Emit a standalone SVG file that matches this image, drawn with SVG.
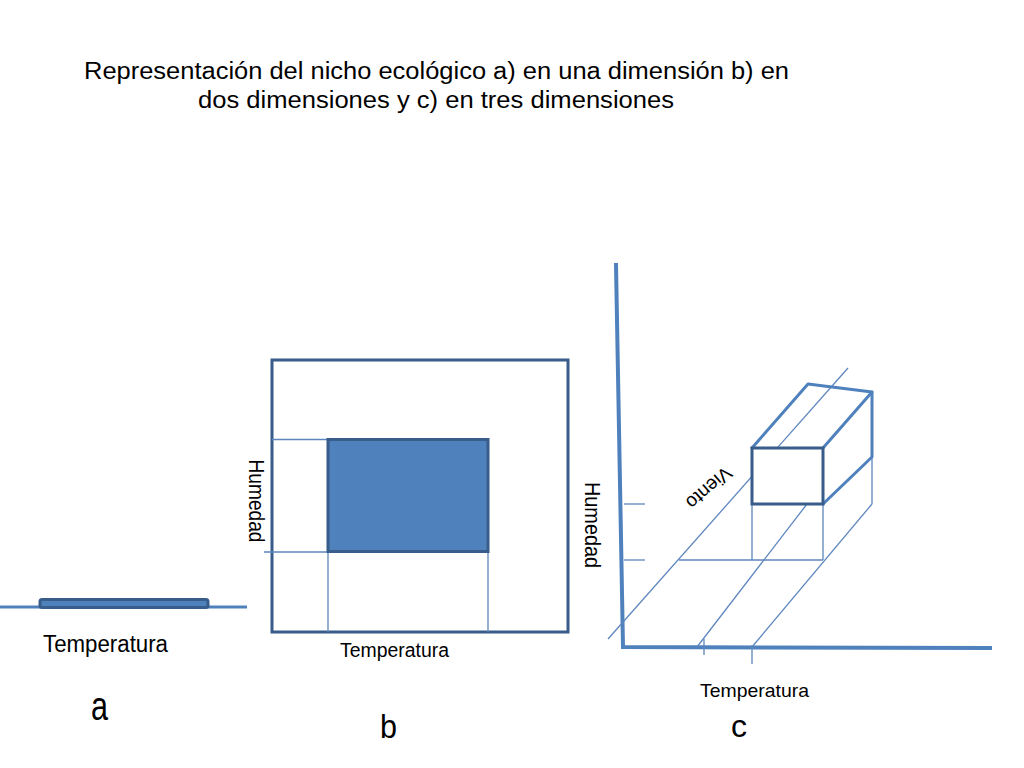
<svg xmlns="http://www.w3.org/2000/svg" width="1024" height="768" viewBox="0 0 1024 768">
<style>
.txt{font-family:"Liberation Sans",Arial,sans-serif;fill:#000}
.axis{stroke:#4F81BD;stroke-width:4;fill:none;stroke-linecap:square}
.thin{stroke:#5E86BE;stroke-width:1.3;fill:none}
.dark{stroke:#385D8A;stroke-width:3}
.edge{stroke:#4F81BD;stroke-width:3;fill:none;stroke-linejoin:round;stroke-linecap:round}
</style>
<rect width="1024" height="768" fill="#fff"/>
<g id="title" class="txt" font-size="23" text-anchor="start">
<text x="84" y="79" textLength="705" lengthAdjust="spacingAndGlyphs">Representación del nicho ecológico a) en una dimensión b) en</text>
<text x="198" y="108" textLength="476" lengthAdjust="spacingAndGlyphs">dos dimensiones y c) en tres dimensiones</text>
</g>
<g id="panel-a">
<line x1="0" y1="607" x2="247" y2="607" stroke="#4F81BD" stroke-width="3"/>
<rect x="40" y="599.5" width="168" height="8" rx="2" fill="#4F81BD" class="dark" stroke-width="2"/>
<text class="txt" x="43" y="652" font-size="23" textLength="125" lengthAdjust="spacingAndGlyphs">Temperatura</text>
<text class="txt" x="91" y="720" font-size="40" textLength="17" lengthAdjust="spacingAndGlyphs">a</text>
</g>
<g id="panel-b">
<rect x="272" y="360" width="296" height="272" fill="#fff" class="dark"/>
<g class="thin">
<line x1="272" y1="439.5" x2="328" y2="439.5"/>
<line x1="264" y1="552" x2="328" y2="552"/>
<line x1="328" y1="552" x2="328" y2="632"/>
<line x1="488" y1="552" x2="488" y2="632"/>
</g>
<rect x="328" y="439.5" width="160" height="112" fill="#4F81BD" class="dark"/>
<text class="txt" transform="translate(256,501) rotate(90)" x="0" y="7.5" font-size="22" text-anchor="middle" textLength="83" lengthAdjust="spacingAndGlyphs">Humedad</text>
<text class="txt" x="340" y="657" font-size="20" textLength="109" lengthAdjust="spacingAndGlyphs">Temperatura</text>
<text class="txt" x="380" y="738" font-size="34" textLength="17" lengthAdjust="spacingAndGlyphs">b</text>
</g>
<g id="connectors">
<polyline class="axis" points="616,265 623,647 990,648"/>
<g class="thin">
<line x1="624" y1="504" x2="645" y2="504"/>
<line x1="624" y1="560" x2="645" y2="560"/>
<line x1="704" y1="639" x2="704" y2="655"/>
<line x1="752" y1="645" x2="752" y2="664"/>
<line x1="608" y1="639" x2="848" y2="368"/>
<line x1="697" y1="647" x2="807" y2="504"/>
<line x1="752" y1="647" x2="872" y2="504"/>
<line x1="679" y1="560" x2="823" y2="560"/>
<line x1="752" y1="504" x2="752" y2="560"/>
<line x1="823" y1="504" x2="823" y2="560"/>
<line x1="872" y1="457" x2="872" y2="504"/>
</g>
</g>
<g id="panel-c">
<g id="box">
<polyline class="edge" points="752,448 808,384 872,392 823,448"/>
<polyline class="edge" points="872,392 872,457 823,504"/>
<rect x="752" y="448" width="71" height="56" fill="#fff" class="dark"/>
</g>
<text class="txt" transform="translate(592,525) rotate(90)" x="0" y="7.5" font-size="22" text-anchor="middle" textLength="86" lengthAdjust="spacingAndGlyphs">Humedad</text>
<text class="txt" transform="translate(709,488) rotate(139)" x="0" y="6.5" font-size="19" text-anchor="middle">Viento</text>
<text class="txt" x="700" y="697" font-size="19" textLength="109" lengthAdjust="spacingAndGlyphs">Temperatura</text>
<text class="txt" x="731" y="737" font-size="32" textLength="16" lengthAdjust="spacingAndGlyphs">c</text>
</g>
</svg>
